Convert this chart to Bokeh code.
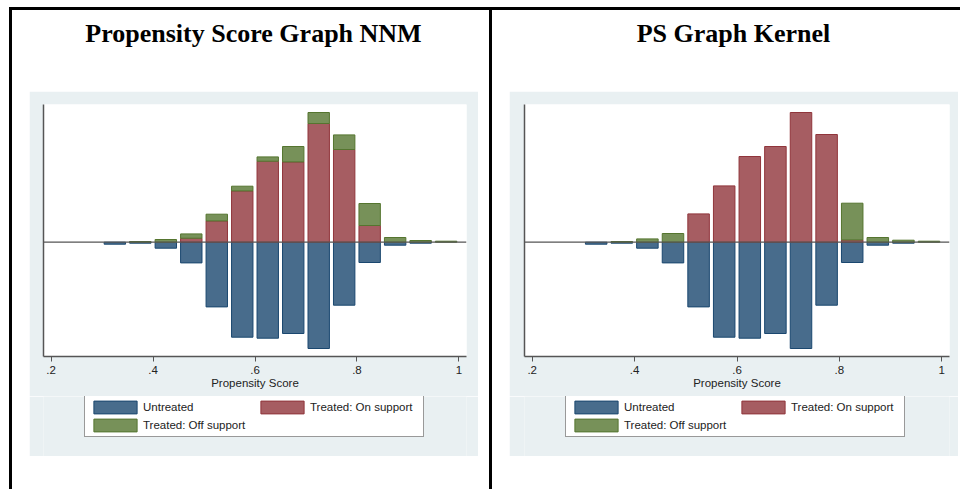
import numpy as np
from bokeh.plotting import figure
from bokeh.models import (ColumnDataSource, Range1d, FixedTicker, CustomJSTickFormatter,
                          Span, Legend, LegendItem, Div, Spacer, Row, Column)
from bokeh.embed import file_html
from bokeh.resources import INLINE

# ---------------- data (bin centres of the propensity score histogram) -------------
bins = [0.325, 0.375, 0.425, 0.475, 0.525, 0.575, 0.625, 0.675, 0.725, 0.775,
        0.825, 0.875, 0.925, 0.975]
untreated = [2.0, 1.0, 6.0, 20.7, 64.7, 95.0, 96.0, 91.3, 106.3, 63.0, 20.3, 3.0, 1.0, 0.0]
nnm_on = [0.0, 0.0, 0.0, 4.0, 21.3, 51.3, 81.0, 80.3, 118.7, 92.7, 16.7, 0.0, 0.0, 0.0]
nnm_off = [0.0, 0.7, 2.7, 4.3, 6.7, 4.7, 4.3, 15.4, 11.0, 14.6, 22.0, 4.7, 1.7, 1.0]
kernel_on = [0.0, 0.0, 0.0, 0.0, 28.3, 56.3, 85.7, 95.7, 129.7, 107.7, 2.3, 0.0, 0.0, 0.0]
kernel_off = [0.0, 0.7, 3.3, 8.7, 0.0, 0.0, 0.0, 0.0, 0.0, 0.0, 36.7, 4.7, 2.0, 1.0]
x_ticks = [0.2, 0.4, 0.6, 0.8, 1.0]
titles = ["Propensity Score Graph NNM", "PS Graph Kernel"]
legend_labels = ["Untreated", "Treated: On support", "Treated: Off support"]
x_label = "Propensity Score"

GRAY = "#E9F0F2"
AXIS = "#555555"
TXT = "#222222"
BLUE_F, BLUE_L = "#486C8C", "#1A476F"
RED_F, RED_L = "#A65D62", "#90353B"
GREEN_F, GREEN_L = "#779159", "#55752F"
SANS = "Liberation Sans"
SERIF = "Liberation Serif"
BAR_W = 0.042
FILLS = [(BLUE_F, BLUE_L), (RED_F, RED_L), (GREEN_F, GREEN_L)]


def bar_source(x, bottom, top):
    x, bottom, top = map(np.asarray, (x, bottom, top))
    m = (top - bottom) > 0
    return ColumnDataSource(dict(x=x[m], bottom=bottom[m], top=top[m]))


def make_panel(on, off, width, bl, br):
    p = figure(width=width, height=305, output_backend="svg", toolbar_location=None,
               x_range=Range1d(0.185, 1.015), y_range=Range1d(-114.3, 137.7),
               min_border_left=bl, min_border_right=br, min_border_top=13,
               min_border_bottom=40, background_fill_color="white",
               border_fill_color=GRAY, outline_line_color=None)
    p.xgrid.visible = False
    p.ygrid.visible = False

    b = np.asarray(bins)
    u = np.asarray(untreated)
    on = np.asarray(on)
    off = np.asarray(off)
    zero = np.zeros_like(b)

    sources = []
    for (bot, top), (fc, lc) in zip([(-u, zero), (zero, on), (on, on + off)], FILLS):
        src = bar_source(b, bot, top)
        p.vbar(x="x", width=BAR_W, top="top", bottom="bottom", source=src,
               fill_color=fc, line_color=lc, line_width=1)
        sources.append(src)

    p.add_layout(Span(location=0, dimension="width", line_color=AXIS, line_width=1.3))

    xa = p.xaxis[0]
    xa.ticker = FixedTicker(ticks=x_ticks, minor_ticks=[])
    xa.formatter = CustomJSTickFormatter(code="""
        const s = (Math.round(tick * 10) / 10).toString();
        return s.startsWith('0') ? s.slice(1) : s;""")
    xa.axis_line_color = AXIS
    xa.axis_line_width = 1.5
    xa.major_tick_line_color = AXIS
    xa.major_tick_out = 5
    xa.major_tick_in = 0
    xa.minor_tick_line_color = None
    xa.major_label_text_font = SANS
    xa.major_label_text_font_size = "11.5px"
    xa.major_label_text_color = TXT
    xa.major_label_standoff = 4
    xa.axis_label = x_label
    xa.axis_label_text_font = SANS
    xa.axis_label_text_font_size = "11.5px"
    xa.axis_label_text_font_style = "normal"
    xa.axis_label_text_color = TXT
    xa.axis_label_standoff = 0

    ya = p.yaxis[0]
    ya.ticker = FixedTicker(ticks=[], minor_ticks=[])
    ya.axis_line_color = AXIS
    ya.axis_line_width = 1.5
    ya.major_tick_line_color = None
    ya.minor_tick_line_color = None
    return p, sources


def make_legend(width, loc, sources):
    # legend strip below the plot; it shares the panel's bar sources but its
    # y range lies far away from the data, so only the legend itself shows
    q = figure(width=width, height=60, output_backend="svg", toolbar_location=None,
               x_range=Range1d(0.185, 1.015), y_range=Range1d(10000, 10001),
               x_axis_location=None, y_axis_location=None,
               min_border=0, min_border_left=0, min_border_right=0,
               min_border_top=0, min_border_bottom=0,
               background_fill_color=GRAY, border_fill_color=GRAY,
               outline_line_color=None)
    q.xgrid.visible = False
    q.ygrid.visible = False
    items = []
    for label, src, (fc, lc) in zip(legend_labels, sources, FILLS):
        r = q.vbar(x="x", width=BAR_W, top="top", bottom="bottom", source=src,
                   fill_color=fc, line_color=lc, line_width=1)
        items.append(LegendItem(label=label, renderers=[r]))
    legend = Legend(items=items, orientation="horizontal", ncols=2, location=loc,
                    glyph_width=54, glyph_height=16, label_height=14, label_width=110,
                    label_standoff=1, spacing=2, padding=3, margin=0,
                    label_text_font=SANS, label_text_font_size="11.5px",
                    label_text_color=TXT,
                    border_line_color="#333333", border_line_width=1,
                    background_fill_color="white", background_fill_alpha=1.0)
    q.add_layout(legend, "center")
    return q


def title_div(text, width):
    html = ('<div style="font-family:\'%s\'; font-weight:bold; font-size:26px; '
            'line-height:26px; text-align:center; color:#000; padding-top:11px; '
            'width:%dpx;">%s</div>' % (SERIF, width, text))
    return Div(text=html, width=width, height=81, margin=(0, 0, 0, 0))


def black(w, h):
    return Spacer(width=w, height=h, margin=(0, 0, 0, 0),
                  styles={"background-color": "black"})


def blank(w, h):
    return Spacer(width=w, height=h, margin=(0, 0, 0, 0))


H = 479
p1, s1 = make_panel(nnm_on, nnm_off, 449, 14, 12)
p2, s2 = make_panel(kernel_on, kernel_off, 449, 15, 9)
l1 = make_legend(449, (41, 19), s1)
l2 = make_legend(449, (41, 19), s2)

left_cell = Row(children=[blank(17, H),
                          Column(children=[title_div(titles[0], 449), p1, l1], spacing=0),
                          blank(11, H)], spacing=0)
right_cell = Row(children=[blank(17, H),
                           Column(children=[title_div(titles[1], 449), p2, l2], spacing=0),
                           blank(2, H)], spacing=0)

top_gap = blank(960, 7)
top = Row(children=[blank(9, 3), black(951, 3)], spacing=0)
body = Row(children=[blank(9, H), black(3, H), left_cell, black(3, H), right_cell],
           spacing=0)
root = Column(children=[top_gap, top, body], spacing=0)

open("out.html", "w").write(file_html(root, INLINE))
